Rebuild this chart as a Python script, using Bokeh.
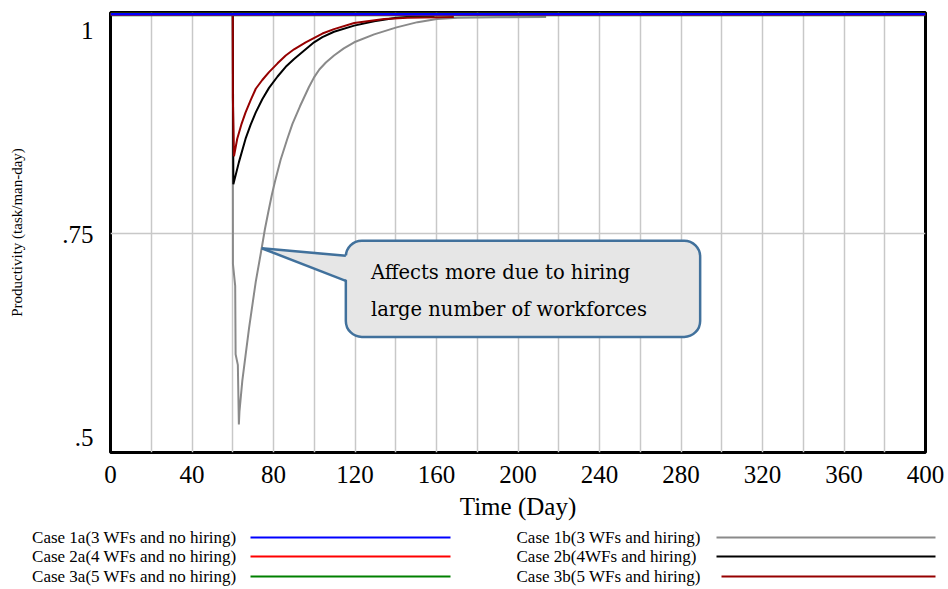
from bokeh.plotting import figure
from bokeh.models import Range1d, FixedTicker, Label, BoxAnnotation
from bokeh.layouts import column, row
from bokeh.embed import file_html
from bokeh.resources import INLINE
from bokeh.core.properties import value

# ---------------- data ----------------
x_ticks = [0, 40, 80, 120, 160, 200, 240, 280, 320, 360, 400]
y_ticks = [0.5, 0.75, 1]
y_tick_labels = [".5", ".75", "1"]

case_names = [
    "Case 1a(3 WFs and no hiring)",
    "Case 2a(4 WFs and no hiring)",
    "Case 3a(5 WFs and no hiring)",
    "Case 1b(3 WFs and hiring)",
    "Case 2b(4WFs and  hiring)",
    "Case 3b(5 WFs and  hiring)",
]
case_colors = ["#0000ff", "#ff0000", "#008000", "#8a8a8a", "#000000", "#960000"]

# no hiring cases: productivity stays at 1
t_1a = [0, 400]
v_1a = [1.0, 1.0]
t_2a = [0, 400]
v_2a = [1.0, 1.0]
t_3a = [0, 400]
v_3a = [1.0, 1.0]

# Case 1b (3 WFs and hiring)
t_1b = [0, 60, 60.1, 61.2, 61.4, 62.5, 63.0, 63.3, 64.7, 66.3, 68.0, 71.3, 74.2, 75.8,
        77.5, 79.2, 80.7, 83.5, 86.8, 89.3, 93.0, 97.4, 99.9, 102.5, 105.7, 109.7, 114.5,
        119.6, 129.4, 140.4, 150.7, 160.2, 170.4, 190.0, 213.8]
v_1b = [1.0, 1.0, 0.715, 0.69, 0.612, 0.60, 0.532, 0.547, 0.582, 0.611, 0.642, 0.695, 0.733,
        0.755, 0.775, 0.794, 0.809, 0.834, 0.858, 0.875, 0.895, 0.917, 0.928, 0.937, 0.945,
        0.953, 0.961, 0.968, 0.977, 0.985, 0.991, 0.9945, 0.996, 0.9965, 0.997]

# Case 2b (4 WFs and hiring)
t_2b = [0, 60, 60.3, 63.0, 66.3, 68.8, 71.3, 74.5, 77.8, 82.0, 86.0, 90.1, 94.2, 99.9,
        104.0, 109.7, 119.6, 129.4, 140.4, 152.0, 159.0]
v_2b = [1.0, 1.0, 0.806, 0.831, 0.858, 0.874, 0.888, 0.903, 0.916, 0.929, 0.940, 0.949,
        0.957, 0.968, 0.974, 0.980, 0.987, 0.992, 0.996, 0.998, 0.998]

# Case 3b (5 WFs and hiring)
t_3b = [0, 60, 60.05, 60.6, 62.2, 64.2, 66.3, 68.8, 71.3, 74.5, 77.8, 82.0, 86.0, 90.1,
        95.8, 104.0, 109.7, 119.6, 134.3, 145.8, 168.5]
v_3b = [1.0, 1.0, 0.905, 0.838, 0.858, 0.874, 0.888, 0.902, 0.915, 0.925, 0.934, 0.944,
        0.953, 0.960, 0.968, 0.978, 0.983, 0.990, 0.9945, 0.996, 0.997]

series_t = [t_1a, t_2a, t_3a, t_1b, t_2b, t_3b]
series_v = [v_1a, v_2a, v_3a, v_1b, v_2b, v_3b]

callout_lines = ["Affects more due to hiring", "large number of workforces"]

SERIF = "Liberation Serif"

# ---------------- main chart ----------------
p = figure(width=948, height=525, x_range=Range1d(0, 400), y_range=Range1d(0.5, 1.002),
           output_backend="svg", toolbar_location=None,
           min_border_left=110, min_border_right=23, min_border_top=12, min_border_bottom=73)
p.background_fill_color = "white"
p.border_fill_color = "white"
p.outline_line_color = "black"
p.outline_line_width = 3

p.xaxis.ticker = FixedTicker(ticks=x_ticks)
p.xaxis.axis_line_color = None
p.xaxis.major_tick_line_color = None
p.xaxis.minor_tick_line_color = None
p.xaxis.major_label_standoff = 7
p.xaxis.major_label_text_font = SERIF
p.xaxis.major_label_text_font_size = "25px"
p.xaxis.major_label_text_color = "black"
p.xaxis.axis_label = "Time (Day)"
p.xaxis.axis_label_text_font = SERIF
p.xaxis.axis_label_text_font_size = "25px"
p.xaxis.axis_label_text_font_style = "normal"
p.xaxis.axis_label_text_color = "black"
p.xaxis.axis_label_standoff = 7

# Vensim-style y labels: the end labels sit just inside the frame.
# The y axis reads its ticks from a slightly widened copy of the value range.
p.extra_y_ranges = {"ticks": Range1d(0.4816, 1.0221)}
p.yaxis.y_range_name = "ticks"
p.yaxis.ticker = FixedTicker(ticks=y_ticks)
p.yaxis.major_label_overrides = {t: s for t, s in zip(y_ticks, y_tick_labels)}
p.yaxis.axis_line_color = None
p.yaxis.major_tick_line_color = None
p.yaxis.minor_tick_line_color = None
p.yaxis.major_label_standoff = 11
p.yaxis.major_label_text_font = SERIF
p.yaxis.major_label_text_font_size = "25px"
p.yaxis.major_label_text_color = "black"
p.yaxis.axis_label = "Productivity (task/man-day)"
p.yaxis.axis_label_text_font = SERIF
p.yaxis.axis_label_text_font_size = "15px"
p.yaxis.axis_label_text_font_style = "normal"
p.yaxis.axis_label_text_color = "black"
p.yaxis.axis_label_standoff = 34

p.xgrid.ticker = FixedTicker(ticks=list(range(0, 401, 20)))
p.xgrid.grid_line_color = "#c8c8c8"
p.xgrid.grid_line_width = 1.5
p.ygrid.ticker = FixedTicker(ticks=[0.75])
p.ygrid.grid_line_color = "#c8c8c8"
p.ygrid.grid_line_width = 1.5

# lines: hiring cases first, then the constant ones on top
draw_order = [3, 4, 5, 2, 1, 0]
widths = {0: 2.5, 1: 3, 2: 4, 3: 2, 4: 2, 5: 2}
for i in draw_order:
    p.line(series_t[i], series_v[i], line_color=case_colors[i], line_width=widths[i])

# callout
box_left, box_right, box_top, box_bottom = 115.5, 289.4, 0.7416, 0.6319
p.add_layout(BoxAnnotation(left=box_left, right=box_right, top=box_top, bottom=box_bottom,
                           fill_color="#e6e6e6", fill_alpha=1.0,
                           line_color="#41719c", line_alpha=1.0, line_width=2.5,
                           border_radius=16))
tip_x, tip_y = t_1b[12], v_1b[12]
base_hi, base_lo = 0.7244, 0.6959
p.patch([tip_x, box_left + 1.6, box_left + 1.6], [tip_y, base_hi, base_lo],
        fill_color="#e6e6e6", line_color=None, level="overlay")
p.multi_line([[tip_x, box_left], [tip_x, box_left]], [[tip_y, base_hi], [tip_y, base_lo]],
             line_color="#41719c", line_width=2.5, level="overlay")
for txt, yy in zip(callout_lines, [0.705, 0.6628]):
    p.add_layout(Label(x=127.8, y=yy, text=txt, text_align="left", text_baseline="middle",
                       text_font="DejaVu Serif", text_font_size="19.5px", text_color="black"))

# ---------------- legend strip ----------------
lg = figure(width=948, height=64, x_range=Range1d(0, 948), y_range=Range1d(64, 0),
            output_backend="svg", toolbar_location=None,
            x_axis_location=None, y_axis_location=None,
            min_border=0, min_border_left=0, min_border_right=0,
            min_border_top=0, min_border_bottom=0)
lg.outline_line_color = None
lg.grid.visible = False
rows = [12, 31, 51]
lg.text(x=[236] * 3, y=rows, text=case_names[:3], text_align="right", text_baseline="middle",
        text_font=value(SERIF), text_font_size="17px", text_color="black")
lg.segment(x0=[250] * 3, x1=[450] * 3, y0=rows, y1=rows, line_color=case_colors[:3], line_width=2)
lg.text(x=[516] * 3, y=rows, text=case_names[3:], text_align="left", text_baseline="middle",
        text_font=value(SERIF), text_font_size="17px", text_color="black")
lg.segment(x0=[716, 716, 721], x1=[935] * 3, y0=rows, y1=rows, line_color=case_colors[3:], line_width=2)

layout = column(p, row(lg))
open("out.html", "w").write(file_html(layout, INLINE))
